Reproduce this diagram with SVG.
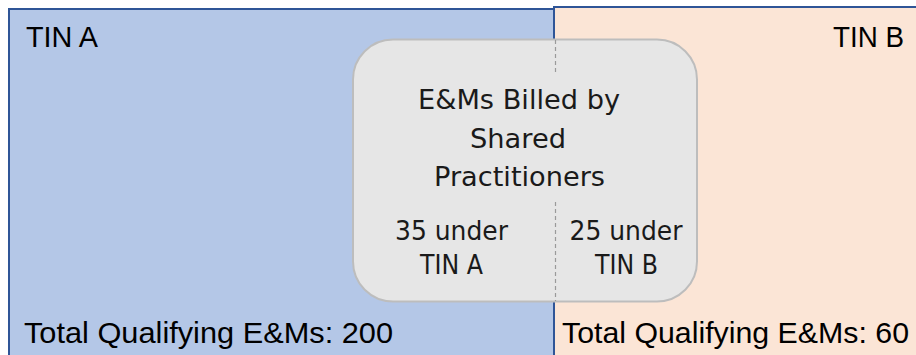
<svg xmlns="http://www.w3.org/2000/svg" width="916" height="355" viewBox="0 0 916 355">
<style>
text{font-family:"Liberation Sans",Arial,sans-serif;fill:#000}
.lbl{font-size:29px}
.tot{font-size:29.5px}
.ctr{font-family:"DejaVu Sans",Verdana,sans-serif;font-size:26px;text-anchor:middle;fill:#1a1a1a}
.dash{stroke:#9a9a9a;stroke-width:1.2;stroke-dasharray:4 3;fill:none}
</style>
<rect x="0" y="0" width="916" height="355" fill="#ffffff"/>
<g id="tinB">
<rect x="554" y="7" width="380" height="360" fill="#FBE5D6" stroke="#2F5597" stroke-width="2"/>
<text class="lbl" x="904" y="47" text-anchor="end" textLength="71" lengthAdjust="spacingAndGlyphs">TIN B</text>
<text class="tot" x="562" y="343" textLength="347" lengthAdjust="spacingAndGlyphs">Total Qualifying E&amp;Ms: 60</text>
</g>
<g id="tinA">
<rect x="9" y="9" width="545" height="360" fill="#B4C7E7" stroke="#2F5597" stroke-width="2"/>
<text class="lbl" x="26" y="47" textLength="72" lengthAdjust="spacingAndGlyphs">TIN A</text>
<text class="tot" x="24" y="343" textLength="369" lengthAdjust="spacingAndGlyphs">Total Qualifying E&amp;Ms: 200</text>
</g>
<g id="shared">
<rect x="353" y="39.5" width="344" height="262" rx="40" ry="40" fill="#E6E6E6" stroke="#BDBDBD" stroke-width="2"/>
<text class="ctr" x="519" y="109" textLength="202" lengthAdjust="spacingAndGlyphs">E&amp;Ms Billed by</text>
<text class="ctr" x="518" y="148" textLength="96" lengthAdjust="spacingAndGlyphs">Shared</text>
<text class="ctr" x="519.5" y="186" textLength="171" lengthAdjust="spacingAndGlyphs">Practitioners</text>
<text class="ctr" x="451.5" y="240" textLength="113" lengthAdjust="spacingAndGlyphs">35 under</text>
<text class="ctr" x="451.5" y="274" textLength="63" lengthAdjust="spacingAndGlyphs">TIN A</text>
<text class="ctr" x="626" y="240" textLength="113" lengthAdjust="spacingAndGlyphs">25 under</text>
<text class="ctr" x="626.5" y="274" textLength="63" lengthAdjust="spacingAndGlyphs">TIN B</text>
</g>
<g id="connectors">
<line class="dash" x1="555.5" y1="40" x2="555.5" y2="72"/>
<line class="dash" x1="555.5" y1="202" x2="555.5" y2="301"/>
</g>
</svg>
